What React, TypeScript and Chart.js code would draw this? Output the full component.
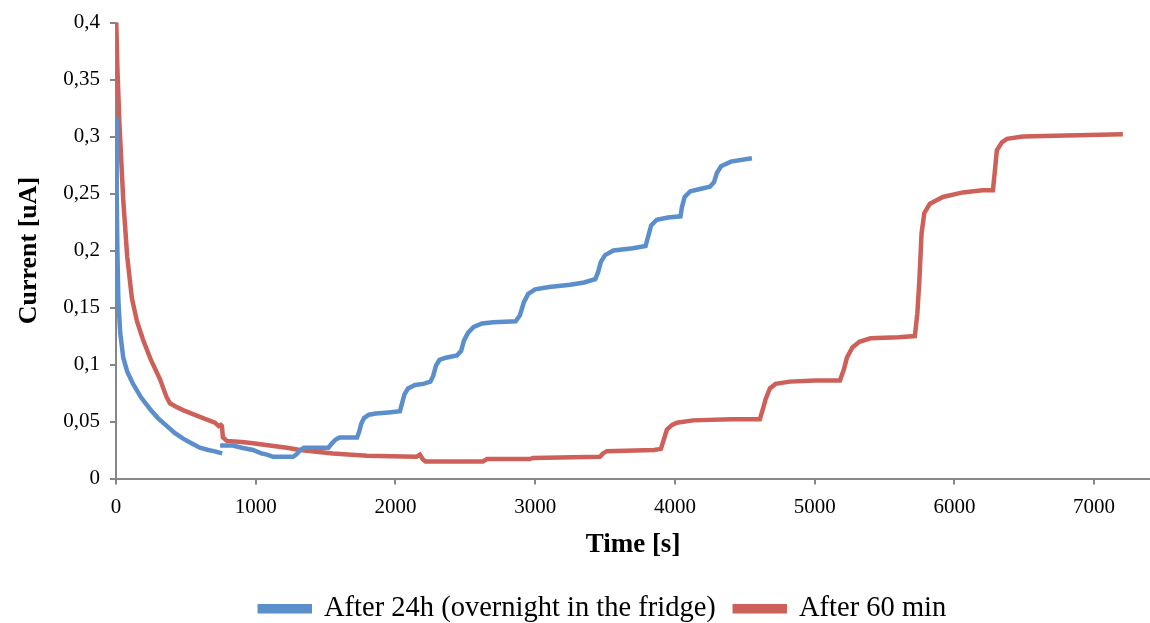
import React, { useEffect, useRef } from "react";
import { Chart, registerables } from "chart.js";

Chart.register(...registerables);

const seriesNames = ["After 24h (overnight in the fridge)", "After 60 min"];

// After 24h series (time s, current uA); a null current marks a gap in the record
const blueTime = [0, 5, 10, 17, 30, 52, 80, 122, 180, 243, 300, 365, 420, 480, 540, 600, 660, 700, 760, 752, 745, 837, 900, 980, 1040, 1080, 1125, 1267, 1290, 1320, 1345, 1520, 1540, 1570, 1600, 1725, 1740, 1755, 1775, 1810, 1860, 1950, 2032, 2045, 2065, 2090, 2140, 2200, 2250, 2270, 2290, 2315, 2360, 2440, 2470, 2490, 2520, 2560, 2620, 2700, 2860, 2890, 2920, 2950, 3000, 3100, 3250, 3350, 3430, 3450, 3470, 3500, 3560, 3700, 3790, 3810, 3830, 3870, 3950, 4040, 4050, 4070, 4110, 4180, 4250, 4280, 4300, 4330, 4400, 4551];
const blueCurrent = [0.316, 0.25, 0.2, 0.156, 0.128, 0.106, 0.094, 0.083, 0.071, 0.061, 0.053, 0.046, 0.04, 0.035, 0.031, 0.027, 0.025, 0.024, 0.022, null, 0.029, 0.029, 0.027, 0.025, 0.022, 0.021, 0.019, 0.019, 0.021, 0.025, 0.027, 0.027, 0.03, 0.034, 0.036, 0.036, 0.041, 0.048, 0.053, 0.056, 0.057, 0.058, 0.059, 0.065, 0.074, 0.079, 0.082, 0.083, 0.085, 0.09, 0.099, 0.104, 0.106, 0.108, 0.112, 0.121, 0.128, 0.133, 0.136, 0.137, 0.138, 0.143, 0.155, 0.162, 0.166, 0.168, 0.17, 0.172, 0.175, 0.181, 0.19, 0.196, 0.2, 0.202, 0.204, 0.213, 0.222, 0.227, 0.229, 0.23, 0.238, 0.247, 0.252, 0.254, 0.256, 0.26, 0.268, 0.274, 0.278, 0.281];

// After 60 min series
const redTime = [0, 10, 25, 52, 80, 114, 150, 193, 250, 315, 360, 386, 430, 480, 600, 708, 735, 750, 758, 765, 794, 900, 980, 1100, 1223, 1317, 1553, 1796, 2150, 2175, 2195, 2215, 2626, 2655, 2962, 2984, 3463, 3485, 3513, 3850, 3900, 3920, 3943, 3980, 4014, 4129, 4400, 4608, 4630, 4650, 4680, 4720, 4823, 5000, 5181, 5210, 5231, 5270, 5320, 5400, 5600, 5717, 5735, 5750, 5765, 5785, 5825, 5918, 6061, 6200, 6276, 6290, 6304, 6340, 6376, 6490, 6800, 7206];
const redCurrent = [0.41, 0.36, 0.31, 0.244, 0.195, 0.158, 0.138, 0.122, 0.104, 0.087, 0.072, 0.066, 0.063, 0.06, 0.054, 0.049, 0.046, 0.047, 0.046, 0.036, 0.033, 0.032, 0.031, 0.029, 0.027, 0.025, 0.022, 0.02, 0.019, 0.021, 0.017, 0.015, 0.015, 0.017, 0.017, 0.018, 0.019, 0.022, 0.024, 0.025, 0.026, 0.034, 0.043, 0.047, 0.049, 0.051, 0.052, 0.052, 0.061, 0.07, 0.079, 0.083, 0.085, 0.086, 0.086, 0.096, 0.106, 0.115, 0.12, 0.123, 0.124, 0.125, 0.145, 0.175, 0.215, 0.233, 0.241, 0.247, 0.251, 0.253, 0.253, 0.27, 0.288, 0.295, 0.298, 0.3, 0.301, 0.302];

const xTicks = [0, 1000, 2000, 3000, 4000, 5000, 6000, 7000];
const yTicks = [0, 0.05, 0.1, 0.15, 0.2, 0.25, 0.3, 0.35, 0.4];

const colors = ["#5B8FCB", "#CD6159"];
const serif = "'Liberation Serif', 'Times New Roman', serif";

function toPoints(xs: number[], ys: (number | null)[]) {
  return xs.map((x, i) => ({ x, y: ys[i] }));
}

const legendShift = {
  id: "legendShift",
  afterLayout(chart: any) {
    const lg = chart.legend;
    if (lg) {
      lg.left += 28;
      lg.right += 28;
    }
  },
};

export default function App() {
  const ref = useRef<HTMLCanvasElement | null>(null);
  useEffect(() => {
    if (!ref.current) return;
    const chart = new Chart(ref.current, {
      type: "line",
      plugins: [legendShift],
      data: {
        datasets: [
          {
            label: seriesNames[0],
            data: toPoints(blueTime, blueCurrent) as any,
            borderColor: colors[0],
            backgroundColor: colors[0],
            borderWidth: 4.5,
            pointRadius: 0,
            tension: 0,
            spanGaps: false,
          },
          {
            label: seriesNames[1],
            data: toPoints(redTime, redCurrent) as any,
            borderColor: colors[1],
            backgroundColor: colors[1],
            borderWidth: 4.5,
            pointRadius: 0,
            tension: 0,
          },
        ],
      },
      options: {
        animation: false,
        responsive: true,
        maintainAspectRatio: false,
        layout: { padding: { top: 16, right: 0, left: 0, bottom: -10 } },
        plugins: {
          tooltip: { enabled: false },
          legend: {
            position: "bottom",
            labels: {
              font: { family: serif, size: 28.5 },
              color: "#000",
              boxWidth: 50,
              boxHeight: 5,
              padding: 19,
            },
          },
        },
        scales: {
          x: {
            type: "linear",
            min: 0,
            max: 7400,
            afterBuildTicks: (s: any) => {
              s.ticks = xTicks.map((v) => ({ value: v }));
            },
            afterFit: (s: any) => {
              s.height = 97;
            },
            ticks: {
              font: { family: serif, size: 21 },
              color: "#000",
              padding: 10,
              maxRotation: 0,
              callback: (v: any) => String(v),
            },
            grid: { drawOnChartArea: false, drawTicks: true, tickLength: 6, color: "#868686", lineWidth: 2 },
            border: { color: "#868686", width: 2 },
            title: {
              display: true,
              text: "Time [s]",
              font: { family: serif, size: 27, weight: "bold" },
              color: "#000",
              padding: { top: 0, bottom: 14 },
            },
          },
          y: {
            min: 0,
            max: 0.4,
            afterBuildTicks: (s: any) => {
              s.ticks = yTicks.map((v) => ({ value: v }));
            },
            afterFit: (s: any) => {
              s.width = 116;
            },
            ticks: {
              font: { family: serif, size: 21 },
              color: "#000",
              padding: 10,
              callback: (v: any) => String(Math.round(Number(v) * 100) / 100).replace(".", ","),
            },
            grid: { drawOnChartArea: false, drawTicks: true, tickLength: 6, color: "#868686", lineWidth: 2 },
            border: { color: "#868686", width: 2 },
            title: {
              display: true,
              text: "Current [uA]",
              font: { family: serif, size: 26, weight: "bold" },
              color: "#000",
              padding: { top: 14, bottom: 0 },
            },
          },
        },
      },
    });
    return () => chart.destroy();
  }, []);
  return (
    <div style={{ position: "fixed", left: 0, top: 0, width: 1150, height: 623, background: "#fff" }}>
      <canvas ref={ref} />
    </div>
  );
}
